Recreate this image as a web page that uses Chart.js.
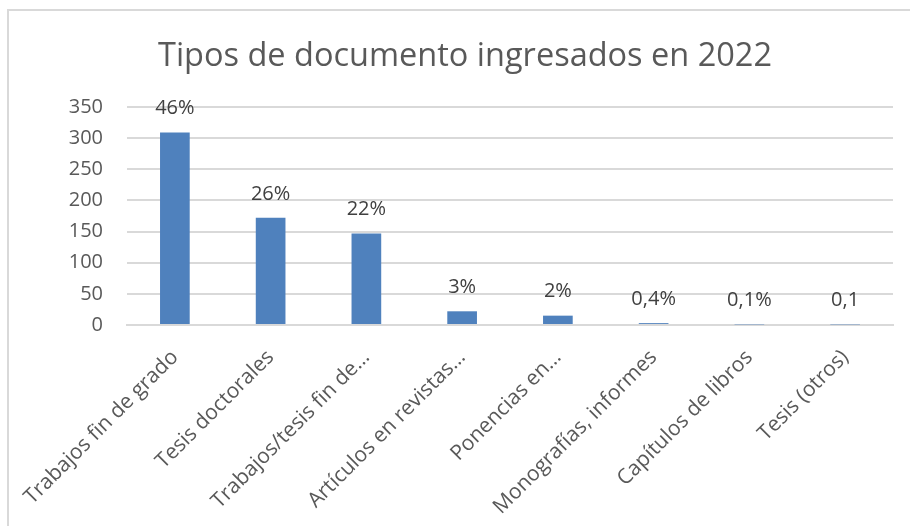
<!DOCTYPE html>
<html>
<head>
<meta charset="utf-8">
<script src="https://cdn.jsdelivr.net/npm/chart.js@4.4.0/dist/chart.umd.min.js"></script>
<style>
  html, body { margin: 0; padding: 0; background: #fff; overflow: hidden; }
  #marco { position: absolute; left: 7px; top: 9px; width: 1000px; height: 700px;
           border-left: 2px solid #d9d9d9; border-top: 2px solid #d9d9d9; }
  #caja { position: absolute; left: 0; top: 0; width: 910px; height: 526px; }
</style>
</head>
<body>
<div id="marco"></div>
<div id="caja"><canvas id="Chart"></canvas></div>
<script>
// categorias y valores
const categorias = [
  'Trabajos fin de grado',
  'Tesis doctorales',
  'Trabajos/tesis fin de…',
  'Artículos en revistas…',
  'Ponencias en…',
  'Monografías, informes',
  'Capítulos de libros',
  'Tesis (otros)'
];
const valores = [309, 172, 147, 22, 15, 3, 1, 1];
const porcentajes = ['46%', '26%', '22%', '3%', '2%', '0,4%', '0,1%', '0,1'];
const ticksY = [0, 50, 100, 150, 200, 250, 300, 350];

const fuente = '"Open Sans", "DejaVu Sans", sans-serif';

// etiquetas encima de las barras
const etiquetas = {
  id: 'etiquetas',
  afterDatasetsDraw(chart) {
    const ctx = chart.ctx;
    const meta = chart.getDatasetMeta(0);
    ctx.save();
    ctx.font = '20px ' + fuente;
    ctx.fillStyle = '#404040';
    ctx.textAlign = 'center';
    ctx.textBaseline = 'middle';
    meta.data.forEach(function (bar, i) {
      ctx.fillText(porcentajes[i], bar.x, bar.y - 24);
    });
    ctx.restore();
  }
};

const data = {
  labels: categorias,
  datasets: [{
    label: 'Documentos',
    data: valores,
    backgroundColor: '#4f81bd',
    borderWidth: 0,
    categoryPercentage: 1,
    barPercentage: 0.31
  }]
};

const config = {
  type: 'bar',
  data: data,
  options: {
    responsive: false,
    animation: false,
    layout: { padding: { left: 37, right: 17, top: 0, bottom: 0 } },
    plugins: {
      legend: { display: false },
      tooltip: { enabled: false },
      title: {
        display: true,
        text: 'Tipos de documento ingresados en 2022',
        color: '#595959',
        font: { family: fuente, size: 32.5, weight: '400' },
        padding: { top: 37, bottom: 31 }
      }
    },
    scales: {
      x: {
        grid: { display: false, drawTicks: false },
        border: { display: true, color: '#d9d9d9', width: 2 },
        ticks: {
          color: '#595959',
          font: { family: fuente, size: 21 },
          minRotation: 45,
          maxRotation: 45,
          autoSkip: false,
          padding: 20
        },
        afterFit(scale) {
          scale.height = 201;
          scale.paddingLeft = 0;
          scale.paddingRight = 0;
        }
      },
      y: {
        min: 0,
        max: 350,
        afterBuildTicks(scale) { scale.ticks = ticksY.map(v => ({ value: v })); },
        grid: { color: '#d9d9d9', lineWidth: 2, drawTicks: false },
        border: { display: false },
        ticks: {
          color: '#595959',
          font: { family: fuente, size: 20 },
          padding: 24
        },
        afterFit(scale) { scale.width = 90; }
      }
    }
  },
  plugins: [etiquetas]
};

const canvas = document.getElementById('Chart');
canvas.width = 910;
canvas.height = 526;
var myChart = new Chart(canvas, config);
</script>
</body>
</html>
